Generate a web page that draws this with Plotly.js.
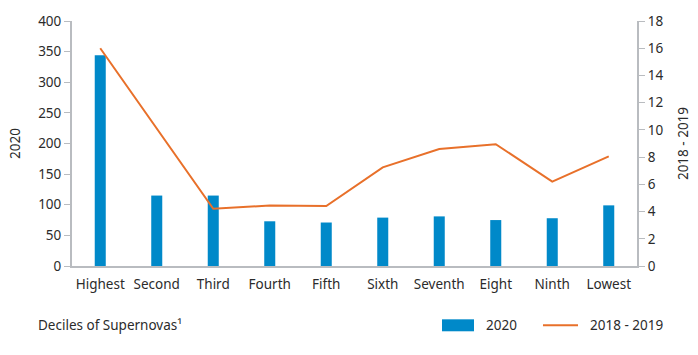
<!DOCTYPE html>
<html>
<head>
<meta charset="utf-8">
<script src="https://cdn.plot.ly/plotly-3.0.1.min.js"></script>
<style>
  html, body { margin: 0; padding: 0; background: #fff; }
  #chart { width: 698px; height: 355px; }
</style>
</head>
<body>
<div id="chart"></div>
<script>
const categories = ["Highest", "Second", "Third", "Fourth", "Fifth", "Sixth", "Seventh", "Eight", "Ninth", "Lowest"];
const values2020 = [344, 115, 115, 73, 71, 79, 81, 75, 78, 99];
const values2018_2019 = [16.0, 10.1, 4.2, 4.45, 4.4, 7.25, 8.6, 8.95, 6.2, 8.05];
const leftTicks = [0, 50, 100, 150, 200, 250, 300, 350, 400];
const rightTicks = [0, 2, 4, 6, 8, 10, 12, 14, 16, 18];
const xTitle = "Deciles of Supernovas\u00B9";
const seriesNames = ["2020", "2018 - 2019"];

const BLUE = "#0089c9";
const ORANGE = "#e8702a";
const GREY = "#b9bcc0";
const TEXT = "#2b2b2b";
const FONT = "Noto Sans, sans-serif";
const FS = 13.5;

const traces = [
  {
    type: "bar",
    x: categories,
    y: values2020,
    name: seriesNames[0],
    marker: { color: BLUE },
    yaxis: "y",
    hoverinfo: "x+y"
  },
  {
    type: "scatter",
    mode: "lines",
    x: categories,
    y: values2018_2019,
    name: seriesNames[1],
    line: { color: ORANGE, width: 2 },
    yaxis: "y2"
  }
];

const layout = {
  width: 698,
  height: 355,
  margin: { l: 72, r: 61, t: 21, b: 89 },
  paper_bgcolor: "#ffffff",
  plot_bgcolor: "#ffffff",
  font: { family: FONT, size: FS, color: TEXT },
  showlegend: false,
  bargap: 0.805,
  xaxis: {
    type: "category",
    showgrid: false,
    zeroline: false,
    showline: true,
    linecolor: GREY,
    linewidth: 2,
    ticks: "",
    ticklabelstandoff: 5,
    tickfont: { family: FONT, size: FS, color: TEXT },
    fixedrange: true
  },
  yaxis: {
    range: [0, 400],
    tickvals: leftTicks,
    showgrid: false,
    zeroline: false,
    showline: true,
    linecolor: GREY,
    linewidth: 2,
    ticks: "outside",
    ticklen: 6,
    tickwidth: 1,
    tickcolor: GREY,
    tickfont: { family: FONT, size: FS, color: TEXT },
    title: { text: "2020", font: { family: FONT, size: FS, color: TEXT }, standoff: 14 }
  },
  yaxis2: {
    overlaying: "y",
    side: "right",
    range: [0, 18],
    tickvals: rightTicks,
    showgrid: false,
    zeroline: false,
    showline: true,
    linecolor: GREY,
    linewidth: 2,
    ticks: "outside",
    ticklen: 6,
    tickwidth: 1,
    tickcolor: GREY,
    tickfont: { family: FONT, size: FS, color: TEXT },
    title: { text: "2018 - 2019", font: { family: FONT, size: FS, color: TEXT }, standoff: 16 }
  },
  shapes: [
    { type: "rect", xref: "paper", yref: "paper", x0: 0.6549, x1: 0.7115, y0: -0.2665, y1: -0.2176,
      fillcolor: BLUE, line: { width: 0 } },
    { type: "line", xref: "paper", yref: "paper", x0: 0.8336, x1: 0.8956, y0: -0.242, y1: -0.242,
      line: { color: ORANGE, width: 2 } }
  ],
  annotations: [
    { xref: "paper", yref: "paper", x: -0.064, y: -0.242, xanchor: "left", yanchor: "middle",
      text: xTitle, showarrow: false, font: { family: FONT, size: FS, color: TEXT } },
    { xref: "paper", yref: "paper", x: 0.7292, y: -0.242, xanchor: "left", yanchor: "middle",
      text: seriesNames[0], showarrow: false, font: { family: FONT, size: FS, color: TEXT } },
    { xref: "paper", yref: "paper", x: 0.9133, y: -0.242, xanchor: "left", yanchor: "middle",
      text: seriesNames[1], showarrow: false, font: { family: FONT, size: FS, color: TEXT } }
  ]
};

Plotly.newPlot("chart", traces, layout, { displayModeBar: false, staticPlot: true });
</script>
</body>
</html>
